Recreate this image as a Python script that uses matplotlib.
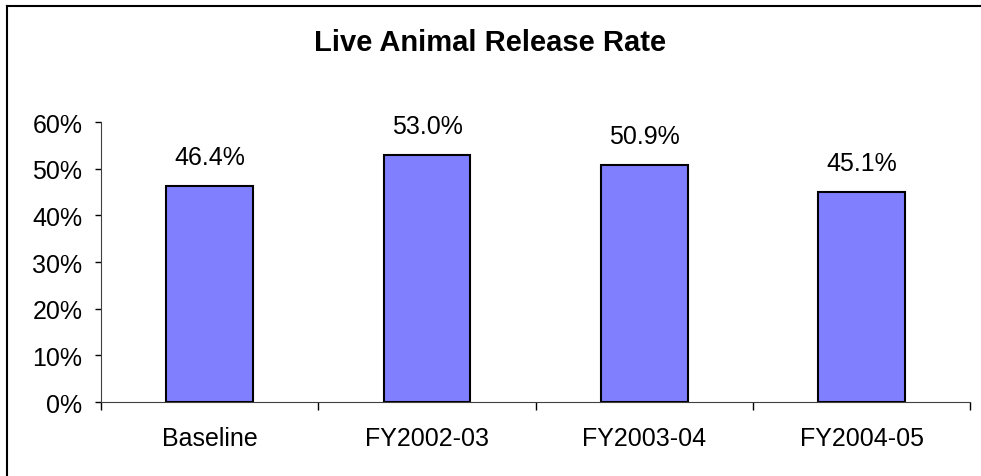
import matplotlib.pyplot as plt
from matplotlib.lines import Line2D
from matplotlib.ticker import FixedLocator, FuncFormatter

plt.rcParams['font.family'] = ['Liberation Sans', 'DejaVu Sans']

# chart data
categories = ['Baseline', 'FY2002-03', 'FY2003-04', 'FY2004-05']
rates = [0.464, 0.530, 0.509, 0.451]
y_ticks = [0.0, 0.1, 0.2, 0.3, 0.4, 0.5, 0.6]

fig = plt.figure(figsize=(9.81, 4.77), dpi=100)
ax = fig.add_axes([0.103, 0.155, 0.886, 0.587])

x = list(range(len(categories)))
bars = ax.bar(x, rates, width=0.4, color='#8080FF',
              edgecolor='black', linewidth=1.5, zorder=3)

for b, v in zip(bars, rates):
    ax.annotate('{:.1%}'.format(v),
                xy=(b.get_x() + b.get_width() / 2, b.get_height()),
                xytext=(0, 12), textcoords='offset points',
                ha='center', va='bottom', fontsize=18)

ax.set_xlim(-0.5, len(categories) - 0.5)
ax.set_ylim(0, 0.6)
ax.set_yticks(y_ticks)
ax.yaxis.set_major_formatter(FuncFormatter(lambda v, p: '{:.0%}'.format(v)))

ax.set_xticks(x)
ax.set_xticklabels(categories)
ax.xaxis.set_minor_locator(FixedLocator([i - 0.5 for i in range(len(categories) + 1)]))
ax.tick_params(axis='x', which='major', length=0, pad=17, labelsize=18)
ax.tick_params(axis='x', which='minor', length=6, width=1, direction='out')
ax.tick_params(axis='y', length=4.5, width=1, pad=9, labelsize=18)

for s in ['top', 'right']:
    ax.spines[s].set_visible(False)
ax.spines['left'].set_color('#404040')
ax.spines['bottom'].set_color('#404040')

fig.text(0.5, 0.91, 'Live Animal Release Rate', ha='center', va='center',
         fontsize=21, fontweight='bold')

# frame of the chart area (only left and top edges in view)
fig.add_artist(Line2D([7 / 981, 7 / 981], [0, 1 - 7 / 477], color='black', lw=1.5))
fig.add_artist(Line2D([7 / 981, 1], [1 - 7 / 477, 1 - 7 / 477], color='black', lw=1.5))

fig.savefig('out.png', dpi=100)
